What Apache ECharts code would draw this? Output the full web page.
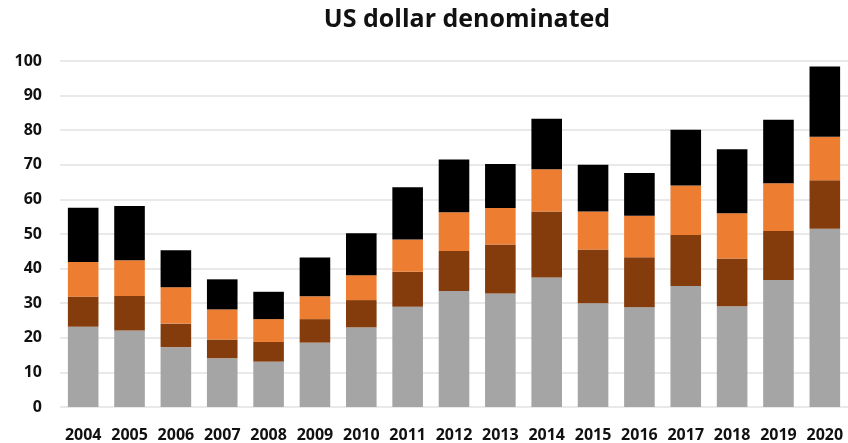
<!DOCTYPE html>
<html>
<head>
<meta charset="utf-8">
<script src="https://cdn.jsdelivr.net/npm/echarts@6/dist/echarts.min.js"></script>
<style>
  html, body { margin: 0; padding: 0; background: #fff; }
  #main { width: 848px; height: 443px; }
</style>
</head>
<body>
<div id="main"></div>
<script>
var years = ['2004', '2005', '2006', '2007', '2008', '2009', '2010', '2011', '2012',
             '2013', '2014', '2015', '2016', '2017', '2018', '2019', '2020'];
var grayVals   = [23.2, 22.1, 17.3, 14.1, 13.1, 18.6, 23.0, 29.0, 33.5, 32.8, 37.4, 30.0, 28.8, 35.0, 29.1, 36.7, 51.5];
var brownVals  = [8.7, 10.0, 6.8, 5.4, 5.7, 6.8, 7.9, 10.1, 11.6, 14.2, 19.1, 15.5, 14.5, 14.7, 13.8, 14.2, 14.0];
var orangeVals = [10.0, 10.3, 10.5, 8.7, 6.6, 6.6, 7.2, 9.3, 11.2, 10.5, 12.2, 11.0, 12.0, 14.3, 13.1, 13.8, 12.6];
var blackVals  = [15.7, 15.7, 10.7, 8.7, 7.9, 11.2, 12.1, 15.1, 15.2, 12.7, 14.6, 13.5, 12.3, 16.1, 18.5, 18.3, 20.3];

var myChart = echarts.init(document.getElementById('main'));

function seg(name, data, color) {
    return {
        name: name,
        type: 'bar',
        stack: 'total',
        barCategoryGap: '34%',
        itemStyle: { color: color },
        data: data
    };
}

var font = '"Open Sans", "DejaVu Sans", sans-serif';

option = {
    animation: false,
    title: {
        text: 'US dollar denominated',
        left: 462,
        top: 2,
        textAlign: 'center',
        textStyle: { fontFamily: font, fontSize: 25, fontWeight: 'bold', color: '#111' }
    },
    grid: { left: 60, right: -4, top: 61, bottom: 35 },
    xAxis: {
        type: 'category',
        data: years,
        axisLine: { show: false },
        axisTick: { show: false },
        axisLabel: { fontFamily: font, fontSize: 16, fontWeight: 'bold', color: '#111', margin: 20, interval: 0 }
    },
    yAxis: {
        type: 'value',
        min: 0,
        max: 100,
        interval: 10,
        axisLine: { show: false },
        axisTick: { show: false },
        splitLine: { lineStyle: { color: '#e2e2e2', width: 1.5 } },
        axisLabel: { fontFamily: font, fontSize: 16, fontWeight: 'bold', color: '#111', margin: 18 }
    },
    series: [
        seg('gray', grayVals, '#a5a5a5'),
        seg('brown', brownVals, '#843c0c'),
        seg('orange', orangeVals, '#ed7d31'),
        seg('black', blackVals, '#000000')
    ]
};
myChart.setOption(option);
</script>
</body>
</html>
